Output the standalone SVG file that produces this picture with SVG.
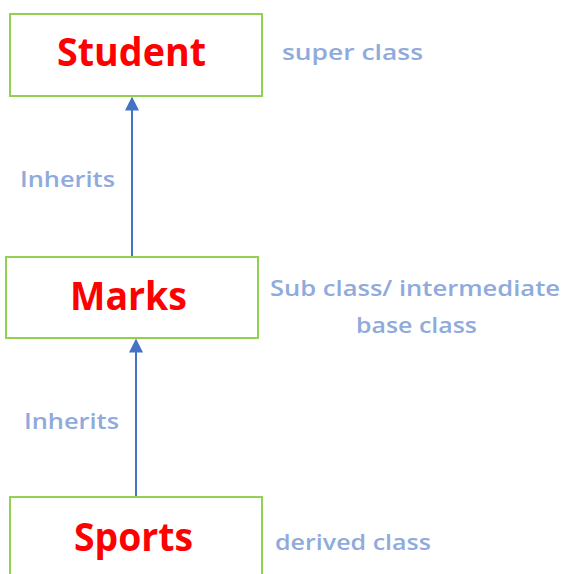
<svg xmlns="http://www.w3.org/2000/svg" width="562" height="574" viewBox="0 0 562 574">
<style>
.box{fill:#fff;stroke:#92D050;stroke-width:2}
.name{font-family:"Open Sans","Liberation Sans",sans-serif;font-weight:bold;font-size:39px;fill:#FF0000}
.lbl{font-family:"Open Sans","Liberation Sans",sans-serif;font-weight:600;font-size:22px;fill:#8FAADC}
.conn{stroke:#4472C4;stroke-width:2;fill:none}
</style>
<defs>
<marker id="arr" viewBox="0 0 10 10" refX="9" refY="5" markerWidth="7" markerHeight="7" orient="auto" markerUnits="strokeWidth">
<path d="M0,0 L10,5 L0,10 z" fill="#4472C4"/>
</marker>
</defs>
<rect width="562" height="574" fill="#fff"/>
<g id="connectors">
<line class="conn" x1="132" y1="257" x2="132" y2="98" marker-end="url(#arr)"/>
<line class="conn" x1="136" y1="497" x2="136" y2="340" marker-end="url(#arr)"/>
</g>
<g id="student">
<rect class="box" x="10" y="14" width="252" height="82"/>
<text class="name" x="57" y="66" textLength="149" lengthAdjust="spacingAndGlyphs">Student</text>
</g>
<g id="marks">
<rect class="box" x="6" y="257" width="252" height="81"/>
<text class="name" x="70" y="310" textLength="117" lengthAdjust="spacingAndGlyphs">Marks</text>
</g>
<g id="sports">
<rect class="box" x="10" y="497" width="252" height="90"/>
<text class="name" x="74" y="551" textLength="119" lengthAdjust="spacingAndGlyphs">Sports</text>
</g>
<g id="labels">
<text class="lbl" x="282" y="60" textLength="141" lengthAdjust="spacingAndGlyphs">super class</text>
<text class="lbl" x="20" y="187" textLength="95" lengthAdjust="spacingAndGlyphs">Inherits</text>
<text class="lbl" x="270" y="296" textLength="290" lengthAdjust="spacingAndGlyphs">Sub class/ intermediate</text>
<text class="lbl" x="356" y="333" textLength="121" lengthAdjust="spacingAndGlyphs">base class</text>
<text class="lbl" x="24" y="429" textLength="95" lengthAdjust="spacingAndGlyphs">Inherits</text>
<text class="lbl" x="275" y="550" textLength="156" lengthAdjust="spacingAndGlyphs">derived class</text>
</g>
</svg>
